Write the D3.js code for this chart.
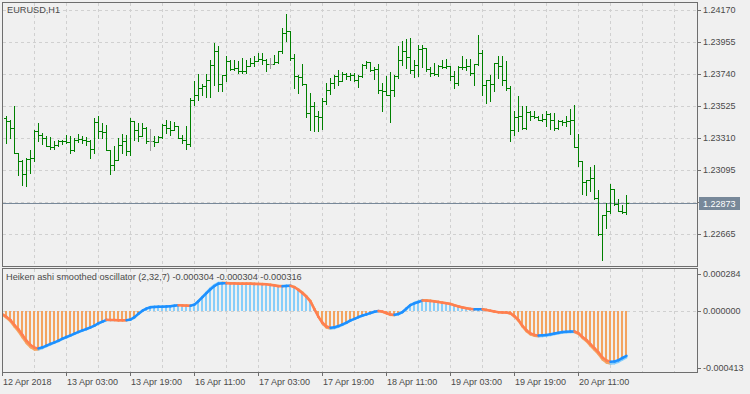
<!DOCTYPE html>
<html>
<head>
<meta charset="utf-8">
<script src="https://cdn.jsdelivr.net/npm/d3@7"></script>
<style>
  body { margin: 0; background: #f0f0f0; }
  svg { display: block; }
  svg text { font-family: "Liberation Sans", Arial, sans-serif; font-size: 9px; fill: #4a4a4a; }
  svg text.pane-title { font-size: 9.2px; }
</style>
</head>
<body>
<div id="chart"></div>
<script>
//
// EURUSD H1 bar chart with a Heiken ashi smoothed oscillator below it
//

var symbol = "EURUSD,H1";
var firstBar = 1;   // bar 0 sits under the left border, OHLC starts at bar 1

var barOpen = [
  1.23446,1.23428,1.23379,1.23211,1.23160,1.23070,1.23173,1.23178,1.23361,1.23334,
  1.23312,1.23256,1.23249,1.23263,1.23290,1.23294,1.23287,1.23234,1.23301,1.23307,
  1.23301,1.23290,1.23240,1.23419,1.23357,1.23350,1.23229,1.23133,1.23166,1.23267,
  1.23290,1.23222,1.23424,1.23368,1.23323,1.23379,1.23290,1.23290,1.23283,1.23317,
  1.23402,1.23379,1.23368,1.23390,1.23312,1.23301,1.23272,1.23570,1.23603,1.23648,
  1.23659,1.23704,1.23805,1.23894,1.23675,1.23733,1.23832,1.23776,1.23782,1.23764,
  1.23760,1.23794,1.23816,1.23827,1.23843,1.23838,1.23809,1.23809,1.23823,1.23894,
  1.24018,1.24033,1.23850,1.23726,1.23720,1.23677,1.23480,1.23525,1.23458,1.23451,
  1.23558,1.23637,1.23682,1.23731,1.23697,1.23744,1.23726,1.23733,1.23704,1.23726,
  1.23805,1.23823,1.23771,1.23776,1.23637,1.23630,1.23603,1.23637,1.23731,1.23838,
  1.23894,1.23856,1.23771,1.23800,1.23912,1.23917,1.23778,1.23749,1.23742,1.23794,
  1.23790,1.23798,1.23731,1.23682,1.23787,1.23789,1.23794,1.23749,1.23809,1.23883,
  1.23670,1.23704,1.23675,1.23816,1.23798,1.23704,1.23648,1.23368,1.23453,1.23460,
  1.23379,1.23487,1.23462,1.23453,1.23435,1.23440,1.23473,1.23435,1.23379,1.23424,
  1.23419,1.23424,1.23430,1.23249,1.23155,1.23016,1.23032,1.23043,1.22909,1.22667,
  1.22797,1.22819,1.22971,1.22868,1.22824,1.22815
];
var barHigh = [
  1.23458,1.23435,1.23525,1.23211,1.23166,1.23178,1.23234,1.23368,1.23413,1.23346,
  1.23323,1.23317,1.23290,1.23301,1.23301,1.23334,1.23323,1.23312,1.23339,1.23323,
  1.23317,1.23301,1.23446,1.23462,1.23413,1.23402,1.23229,1.23256,1.23312,1.23339,
  1.23334,1.23446,1.23424,1.23413,1.23413,1.23384,1.23375,1.23323,1.23323,1.23406,
  1.23435,1.23428,1.23419,1.23390,1.23334,1.23395,1.23581,1.23693,1.23742,1.23675,
  1.23742,1.23838,1.23950,1.23928,1.23738,1.23861,1.23838,1.23838,1.23827,1.23850,
  1.23838,1.23850,1.23861,1.23883,1.23883,1.23843,1.23850,1.23872,1.23899,1.24051,
  1.24145,1.24033,1.23876,1.23738,1.23809,1.23677,1.23614,1.23552,1.23496,1.23581,
  1.23682,1.23715,1.23733,1.23771,1.23753,1.23749,1.23749,1.23749,1.23738,1.23809,
  1.23827,1.23823,1.23787,1.23809,1.23682,1.23726,1.23756,1.23738,1.23932,1.23962,
  1.23977,1.23984,1.23838,1.23935,1.23939,1.23917,1.23789,1.23816,1.23805,1.23838,
  1.23845,1.23798,1.23760,1.23794,1.23861,1.23845,1.23845,1.23809,1.24006,1.23906,
  1.23704,1.23738,1.23816,1.23861,1.23861,1.23832,1.23659,1.23491,1.23592,1.23525,
  1.23525,1.23491,1.23491,1.23458,1.23473,1.23496,1.23480,1.23480,1.23435,1.23435,
  1.23458,1.23509,1.23536,1.23339,1.23160,1.23032,1.23117,1.23128,1.22965,1.22797,
  1.22875,1.23003,1.22971,1.22904,1.22864,1.22931
];
var barLow = [
  1.23278,1.23312,1.23211,1.23066,1.22998,1.22992,1.23077,1.23155,1.23290,1.23272,
  1.23256,1.23240,1.23240,1.23256,1.23272,1.23278,1.23211,1.23222,1.23285,1.23278,
  1.23267,1.23178,1.23211,1.23312,1.23312,1.23229,1.23070,1.23099,1.23166,1.23211,
  1.23200,1.23200,1.23301,1.23294,1.23323,1.23278,1.23229,1.23256,1.23283,1.23312,
  1.23346,1.23334,1.23368,1.23312,1.23278,1.23240,1.23256,1.23536,1.23570,1.23603,
  1.23585,1.23585,1.23670,1.23626,1.23630,1.23693,1.23771,1.23771,1.23749,1.23749,
  1.23749,1.23794,1.23794,1.23827,1.23809,1.23760,1.23782,1.23809,1.23816,1.23883,
  1.23962,1.23838,1.23648,1.23614,1.23670,1.23451,1.23368,1.23361,1.23361,1.23375,
  1.23540,1.23608,1.23648,1.23670,1.23697,1.23711,1.23704,1.23693,1.23652,1.23720,
  1.23782,1.23760,1.23711,1.23614,1.23491,1.23603,1.23419,1.23592,1.23715,1.23805,
  1.23782,1.23749,1.23720,1.23726,1.23787,1.23760,1.23726,1.23733,1.23726,1.23782,
  1.23782,1.23704,1.23648,1.23670,1.23778,1.23771,1.23738,1.23670,1.23805,1.23603,
  1.23547,1.23558,1.23630,1.23715,1.23670,1.23637,1.23290,1.23334,1.23357,1.23372,
  1.23372,1.23435,1.23446,1.23431,1.23428,1.23390,1.23375,1.23368,1.23375,1.23397,
  1.23390,1.23339,1.23249,1.23122,1.22936,1.22931,1.22954,1.22904,1.22662,1.22494,
  1.22707,1.22808,1.22864,1.22819,1.22808,1.22801
];
var barClose = [
  1.23428,1.23379,1.23211,1.23160,1.23070,1.23173,1.23178,1.23361,1.23334,1.23312,
  1.23256,1.23249,1.23263,1.23290,1.23294,1.23287,1.23234,1.23301,1.23307,1.23301,
  1.23290,1.23240,1.23419,1.23357,1.23350,1.23229,1.23133,1.23166,1.23267,1.23290,
  1.23222,1.23424,1.23368,1.23323,1.23379,1.23290,1.23290,1.23283,1.23317,1.23402,
  1.23379,1.23368,1.23390,1.23312,1.23301,1.23272,1.23570,1.23603,1.23648,1.23659,
  1.23704,1.23805,1.23894,1.23675,1.23733,1.23832,1.23776,1.23782,1.23764,1.23760,
  1.23794,1.23816,1.23827,1.23843,1.23838,1.23809,1.23809,1.23823,1.23894,1.24018,
  1.24033,1.23850,1.23726,1.23720,1.23677,1.23480,1.23525,1.23458,1.23451,1.23558,
  1.23637,1.23682,1.23731,1.23697,1.23744,1.23726,1.23733,1.23704,1.23726,1.23805,
  1.23823,1.23771,1.23776,1.23637,1.23630,1.23603,1.23637,1.23731,1.23838,1.23894,
  1.23856,1.23771,1.23800,1.23912,1.23917,1.23778,1.23749,1.23742,1.23794,1.23790,
  1.23798,1.23731,1.23682,1.23787,1.23789,1.23794,1.23749,1.23809,1.23883,1.23670,
  1.23704,1.23675,1.23816,1.23798,1.23704,1.23648,1.23368,1.23453,1.23460,1.23379,
  1.23487,1.23462,1.23453,1.23435,1.23440,1.23473,1.23435,1.23379,1.23424,1.23419,
  1.23424,1.23430,1.23249,1.23155,1.23016,1.23032,1.23043,1.22909,1.22667,1.22797,
  1.22819,1.22971,1.22868,1.22824,1.22815,1.22873
];

var priceTicks = [1.24170, 1.23955, 1.23740, 1.23525, 1.23310, 1.23095, 1.22880, 1.22665];

// Bar index of each time label (one label every 16 bars)
var dateTicks = [0, 16, 32, 48, 64, 80, 96, 112, 128, 144];
var dateLabels = ["12 Apr 2018", "13 Apr 03:00", "13 Apr 19:00", "16 Apr 11:00", "17 Apr 03:00",
                  "17 Apr 19:00", "18 Apr 11:00", "19 Apr 03:00", "19 Apr 19:00", "20 Apr 11:00"];

var oscName = "Heiken ashi smoothed oscillator (2,32,7)";
// oscillator value, bar 0 .. 156
var oscValue = [
  -0.000022,-0.000040,-0.000061,-0.000095,-0.000124,-0.000162,-0.000201,-0.000230,-0.000248,-0.000253,
  -0.000246,-0.000235,-0.000223,-0.000212,-0.000201,-0.000187,-0.000176,-0.000165,-0.000153,-0.000142,
  -0.000131,-0.000122,-0.000111,-0.000099,-0.000083,-0.000072,-0.000060,-0.000061,-0.000061,-0.000062,
  -0.000062,-0.000062,-0.000058,-0.000042,-0.000018,0.000002,0.000016,0.000025,0.000027,0.000029,
  0.000029,0.000030,0.000032,0.000036,0.000038,0.000037,0.000036,0.000035,0.000043,0.000066,
  0.000093,0.000120,0.000147,0.000169,0.000185,0.000187,0.000187,0.000186,0.000186,0.000185,
  0.000185,0.000184,0.000184,0.000183,0.000182,0.000181,0.000180,0.000176,0.000172,0.000168,
  0.000168,0.000169,0.000170,0.000160,0.000142,0.000120,0.000095,0.000063,0.000010,-0.000040,
  -0.000080,-0.000105,-0.000113,-0.000110,-0.000102,-0.000091,-0.000079,-0.000064,-0.000053,-0.000041,
  -0.000031,-0.000023,-0.000014,-0.000005,0.000000,-0.000004,-0.000014,-0.000024,-0.000026,-0.000020,
  -0.000007,0.000017,0.000040,0.000052,0.000061,0.000070,0.000069,0.000067,0.000064,0.000060,
  0.000056,0.000052,0.000047,0.000038,0.000030,0.000023,0.000019,0.000014,0.000011,0.000012,
  0.000012,0.000007,0.000002,-0.000004,-0.000008,-0.000010,-0.000011,-0.000016,-0.000035,-0.000061,
  -0.000100,-0.000130,-0.000152,-0.000162,-0.000166,-0.000164,-0.000162,-0.000158,-0.000153,-0.000147,
  -0.000142,-0.000140,-0.000139,-0.000139,-0.000150,-0.000176,-0.000196,-0.000225,-0.000252,-0.000280,
  -0.000315,-0.000335,-0.000344,-0.000342,-0.000333,-0.000318,-0.000304
];
// signal line, bar 0 .. 156
var oscSignal = [
  -0.000026,-0.000047,-0.000072,-0.000108,-0.000140,-0.000180,-0.000218,-0.000246,-0.000262,-0.000262,
  -0.000252,-0.000240,-0.000228,-0.000216,-0.000205,-0.000191,-0.000180,-0.000168,-0.000156,-0.000145,
  -0.000134,-0.000124,-0.000113,-0.000101,-0.000086,-0.000074,-0.000063,-0.000063,-0.000063,-0.000064,
  -0.000064,-0.000064,-0.000061,-0.000046,-0.000022,0.000002,0.000019,0.000028,0.000030,0.000031,
  0.000031,0.000032,0.000034,0.000038,0.000040,0.000039,0.000038,0.000037,0.000045,0.000070,
  0.000099,0.000127,0.000155,0.000177,0.000191,0.000192,0.000191,0.000190,0.000189,0.000188,
  0.000188,0.000187,0.000187,0.000186,0.000185,0.000184,0.000183,0.000179,0.000175,0.000171,
  0.000171,0.000172,0.000173,0.000164,0.000147,0.000126,0.000101,0.000070,0.000016,-0.000040,
  -0.000086,-0.000113,-0.000121,-0.000117,-0.000107,-0.000095,-0.000082,-0.000067,-0.000055,-0.000043,
  -0.000033,-0.000024,-0.000015,-0.000006,-0.000002,-0.000007,-0.000018,-0.000028,-0.000030,-0.000023,
  -0.000009,0.000017,0.000043,0.000056,0.000066,0.000075,0.000074,0.000071,0.000067,0.000063,
  0.000058,0.000054,0.000049,0.000040,0.000032,0.000025,0.000020,0.000015,0.000012,0.000013,
  0.000013,0.000008,0.000002,-0.000005,-0.000009,-0.000011,-0.000012,-0.000019,-0.000040,-0.000068,
  -0.000108,-0.000139,-0.000160,-0.000170,-0.000173,-0.000171,-0.000168,-0.000164,-0.000158,-0.000152,
  -0.000147,-0.000145,-0.000144,-0.000144,-0.000156,-0.000184,-0.000206,-0.000237,-0.000265,-0.000294,
  -0.000330,-0.000350,-0.000358,-0.000355,-0.000345,-0.000330,-0.000316
];
var oscTicks = [0.000284, 0.000000, -0.000413];

// Layout of the two panes
var width = 750, height = 394;
var left = 2, right = 697;
var mainTop = 2, mainBottom = 266;
var oscTop = 268, oscBottom = 372;
var borderColor = "#6e6e6e";

var svg = d3.select("#chart")
    .append("svg")
    .attr("width", width)
    .attr("height", height);

svg.append("rect").attr("width", width).attr("height", height).style("fill", "#f0f0f0");

// Scales: 4 px per bar, price and oscillator on the right
var x = d3.scaleLinear().domain([0, 173.5]).range([2.5, 696.5]);
var y = d3.scaleLinear().domain([1.22450, 1.24170]).range([266.3, 10.3]);
var yOsc = d3.scaleLinear().domain([-0.000413, 0.000284]).range([372, 269]);

function px(v) { return Math.round(v) + 0.5; }

var defs = svg.append("defs");
defs.append("clipPath").attr("id", "clip-main").append("rect")
    .attr("x", left + 1).attr("y", mainTop + 1)
    .attr("width", right - left - 1).attr("height", mainBottom - mainTop - 1);
defs.append("clipPath").attr("id", "clip-osc").append("rect")
    .attr("x", left + 1).attr("y", oscTop + 1)
    .attr("width", right - left - 1).attr("height", oscBottom - oscTop - 1);

// Grid
var gridBars = d3.range(8, 174, 8);
var grid = svg.append("g")
    .style("stroke", "#d0d0d0")
    .style("stroke-dasharray", "3,3")
    .style("shape-rendering", "crispEdges");

[[mainTop + 1, mainBottom], [oscTop + 1, oscBottom]].forEach(function(span) {
  grid.append("g").selectAll("line")
      .data(gridBars)
      .enter()
      .append("line")
      .attr("x1", function(d) { return Math.floor(x(d)) + 0.5; })
      .attr("x2", function(d) { return Math.floor(x(d)) + 0.5; })
      .attr("y1", span[0])
      .attr("y2", span[1]);
});

grid.append("g").selectAll("line")
    .data(priceTicks)
    .enter()
    .append("line")
    .attr("x1", left + 1).attr("x2", right)
    .attr("y1", function(d) { return px(y(d)); })
    .attr("y2", function(d) { return px(y(d)); });

grid.append("line")
    .attr("x1", left + 1).attr("x2", right)
    .attr("y1", px(yOsc(0))).attr("y2", px(yOsc(0)));

// Current price line
var lastClose = barClose[barClose.length - 1];
svg.append("line")
    .attr("x1", left + 1).attr("x2", right)
    .attr("y1", px(y(lastClose))).attr("y2", px(y(lastClose)))
    .style("stroke", "#778899")
    .style("shape-rendering", "crispEdges");

// OHLC bars
var bars = barOpen.map(function(o, i) {
  return {k: i + firstBar, o: o, h: barHigh[i], l: barLow[i], c: barClose[i]};
});
function barColor(d) { return d.o === d.c ? "#a0a0a0" : "#008000"; }

var priceG = svg.append("g")
    .attr("clip-path", "url(#clip-main)")
    .style("shape-rendering", "crispEdges");

priceG.selectAll(".hl")
    .data(bars)
    .enter()
    .append("rect")
    .attr("x", function(d) { return Math.floor(x(d.k)); })
    .attr("y", function(d) { return Math.round(y(d.h)); })
    .attr("width", 1)
    .attr("height", function(d) { return Math.max(1, Math.round(y(d.l)) - Math.round(y(d.h)) + 1); })
    .style("fill", barColor);

priceG.selectAll(".open")
    .data(bars)
    .enter()
    .append("rect")
    .attr("x", function(d) { return Math.floor(x(d.k)) - 2; })
    .attr("y", function(d) { return Math.round(y(d.o)); })
    .attr("width", 2)
    .attr("height", 1)
    .style("fill", barColor);

priceG.selectAll(".close")
    .data(bars)
    .enter()
    .append("rect")
    .attr("x", function(d) { return Math.floor(x(d.k)) + 1; })
    .attr("y", function(d) { return Math.round(y(d.c)); })
    .attr("width", 2)
    .attr("height", 1)
    .style("fill", barColor);

// Oscillator histogram
var oscG = svg.append("g").attr("clip-path", "url(#clip-osc)");

oscG.append("g")
    .style("shape-rendering", "crispEdges")
    .selectAll("rect")
    .data(oscValue)
    .enter()
    .append("rect")
    .attr("x", function(d, i) { return Math.floor(x(i)) - 1; })
    .attr("width", 2)
    .attr("y", function(d) { return Math.min(yOsc(d), yOsc(0)); })
    .attr("height", function(d) { return Math.abs(yOsc(d) - yOsc(0)); })
    .style("fill", function(d) { return d < 0 ? "#f4a460" : "#87cefa"; });

// Segments coloured by slope (flat keeps the previous colour)
function slopeSegments(values) {
  var segs = [], up = values[1] >= values[0];
  for (var i = 1; i < values.length; i++) {
    if (values[i] > values[i - 1]) up = true;
    else if (values[i] < values[i - 1]) up = false;
    segs.push({a: i - 1, b: i, va: values[i - 1], vb: values[i], up: up});
  }
  return segs;
}

function drawSegments(values, w, upColor, downColor) {
  oscG.append("g")
      .style("stroke-linecap", "round")
      .selectAll("line")
      .data(slopeSegments(values))
      .enter()
      .append("line")
      .attr("x1", function(d) { return x(d.a); })
      .attr("x2", function(d) { return x(d.b); })
      .attr("y1", function(d) { return yOsc(d.va); })
      .attr("y2", function(d) { return yOsc(d.vb); })
      .style("stroke-width", w)
      .style("stroke", function(d) { return d.up ? upColor : downColor; });
}

drawSegments(oscSignal, 2, "#87cefa", "#f4a460");
drawSegments(oscValue, 2.5, "#1e90ff", "#ff7f50");

// Pane borders
svg.append("rect")
    .attr("x", left + 0.5).attr("y", mainTop + 0.5)
    .attr("width", right - left).attr("height", mainBottom - mainTop)
    .style("fill", "none").style("stroke", borderColor)
    .style("shape-rendering", "crispEdges");
svg.append("rect")
    .attr("x", left + 0.5).attr("y", oscTop + 0.5)
    .attr("width", right - left).attr("height", oscBottom - oscTop)
    .style("fill", "none").style("stroke", borderColor)
    .style("shape-rendering", "crispEdges");

// Price axis
var priceAxis = svg.append("g")
    .attr("transform", "translate(" + right + ",0)")
    .call(d3.axisRight(y).tickValues(priceTicks).tickSize(4).tickPadding(2)
          .tickFormat(function(d) { return d.toFixed(5); }));
priceAxis.select(".domain").remove();
priceAxis.selectAll(".tick").attr("transform", function(d) { return "translate(0," + px(y(d)) + ")"; });

// Current price label
var priceBoxY = px(y(lastClose));
svg.append("rect")
    .attr("x", 699).attr("y", priceBoxY - 6.5)
    .attr("width", 41).attr("height", 13)
    .style("fill", "#778899");
svg.append("text")
    .attr("x", 703).attr("y", priceBoxY + 3)
    .text(lastClose.toFixed(5))
    .style("fill", "#ffffff");

// Oscillator axis, top and bottom labels kept inside the pane
var oscAxis = svg.append("g")
    .attr("transform", "translate(" + right + ",0)")
    .call(d3.axisRight(yOsc).tickValues(oscTicks).tickSize(4).tickPadding(2)
          .tickFormat(function(d) { return d.toFixed(6); }));
oscAxis.select(".domain").remove();
oscAxis.selectAll(".tick").attr("transform", function(d) {
  return "translate(0," + px(Math.min(Math.max(yOsc(d), 273.5), 367.5)) + ")";
});

// Time axis
var dateAxis = svg.append("g")
    .attr("transform", "translate(0," + oscBottom + ")")
    .call(d3.axisBottom(x).tickValues(dateTicks).tickSize(4).tickPadding(3)
          .tickFormat(function(d, i) { return dateLabels[i]; }));
dateAxis.select(".domain").remove();
dateAxis.selectAll(".tick").attr("transform", function(d) { return "translate(" + (Math.floor(x(d)) + 0.5) + ",0)"; });
dateAxis.selectAll(".tick text").attr("text-anchor", "start").attr("x", 0.5);

[priceAxis, oscAxis, dateAxis].forEach(function(ax) {
  ax.attr("font-family", null).attr("font-size", null);
  ax.selectAll(".tick line").style("stroke", borderColor).style("shape-rendering", "crispEdges");
});

// Titles
svg.append("text").attr("class", "pane-title").attr("x", 7).attr("y", 13).text(symbol);

var last = oscValue.length - 1;
svg.append("text")
    .attr("class", "pane-title")
    .attr("x", 6).attr("y", 280)
    .text(oscName + " " + oscValue[last].toFixed(6) + " " + oscValue[last].toFixed(6) + " " + oscSignal[last].toFixed(6));
</script>
</body>
</html>
